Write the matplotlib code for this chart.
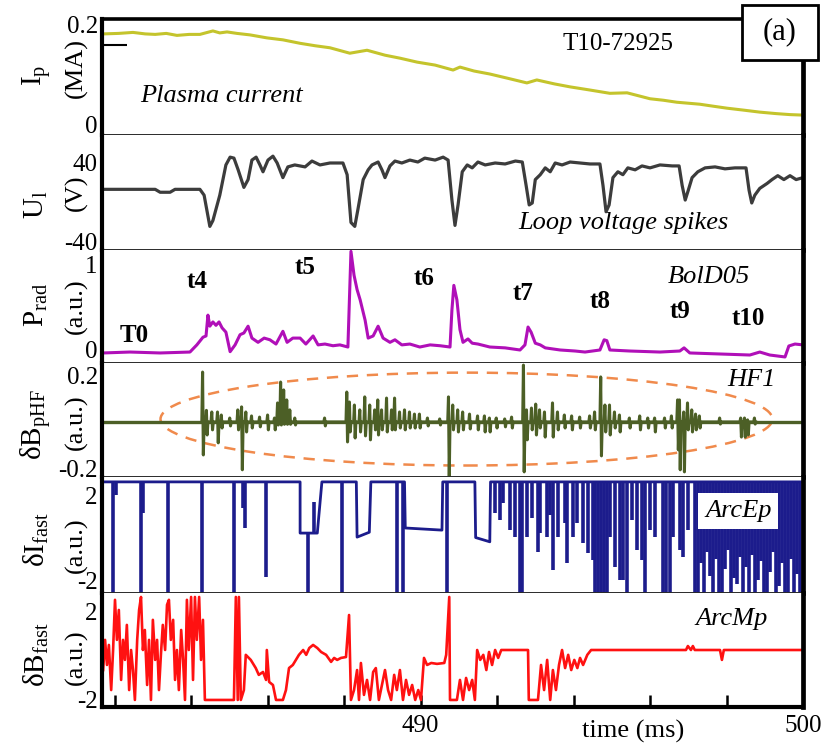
import matplotlib
matplotlib.use("Agg")
import matplotlib.pyplot as plt
from matplotlib.patches import Ellipse, Rectangle

plt.rcParams['font.family'] = ['Liberation Serif', 'DejaVu Serif']
plt.rcParams['mathtext.fontset'] = 'custom'
plt.rcParams['mathtext.rm'] = 'Liberation Serif'
plt.rcParams['mathtext.it'] = 'Liberation Serif:italic'
plt.rcParams['mathtext.bf'] = 'Liberation Serif:bold'

# ---------------- time window (ms) ----------------
T_MIN, T_MAX = 481.67, 500.0
x_ticks = [482, 484, 486, 488, 490, 492, 494, 496, 498, 500]
x_tick_labels = ['', '', '', '', '490', '', '', '', '', '500']

# ---------------- plasma current Ip (MA) ----------------
ip_t = [481.70, 482.10, 482.48, 482.80, 483.06, 483.35, 483.63, 483.95, 484.23, 484.57,
        484.75, 484.94, 485.20, 485.54, 485.98, 486.40, 486.85, 487.25, 487.63, 488.15,
        488.60, 489.07, 489.46, 489.91, 490.38, 490.85, 491.03, 491.40, 491.81, 492.30,
        492.78, 493.04, 493.50, 493.91, 494.40, 494.95, 495.40, 496.00, 496.35, 496.70,
        497.30, 497.65, 498.01, 498.45, 498.87, 499.30, 499.66, 500.00]
ip_v = [0.182, 0.183, 0.185, 0.182, 0.181, 0.183, 0.179, 0.181, 0.181, 0.188,
        0.184, 0.186, 0.183, 0.180, 0.174, 0.170, 0.163, 0.158, 0.154, 0.143,
        0.149, 0.139, 0.133, 0.125, 0.119, 0.109, 0.115, 0.107, 0.101, 0.092,
        0.083, 0.089, 0.081, 0.075, 0.069, 0.062, 0.063, 0.051, 0.048, 0.044,
        0.040, 0.036, 0.032, 0.028, 0.024, 0.021, 0.019, 0.018]

# ---------------- loop voltage Ul (V) ----------------
ul_t = [481.70, 483.06, 483.19, 483.45, 483.58, 484.23, 484.34, 484.49, 484.57, 484.75,
        484.91, 485.02, 485.12, 485.23, 485.38, 485.49, 485.59, 485.70, 485.80, 485.88,
        486.01, 486.14, 486.25, 486.40, 486.53, 486.71, 486.98, 487.16, 487.37, 487.63,
        487.97, 488.08, 488.18, 488.28, 488.36, 488.50, 488.63, 488.73, 488.89, 488.99,
        489.07, 489.20, 489.33, 489.51, 489.72, 489.93, 490.11, 490.38, 490.59, 490.72,
        490.82, 490.90, 490.98, 491.09, 491.22, 491.35, 491.50, 491.69, 491.95, 492.21,
        492.48, 492.66, 492.76, 492.84, 492.92, 493.00, 493.13, 493.26, 493.39, 493.52,
        493.70, 493.91, 494.17, 494.43, 494.69, 494.77, 494.85, 494.93, 495.03, 495.16,
        495.29, 495.42, 495.61, 495.79, 496.00, 496.26, 496.58, 496.76, 496.84, 496.92,
        497.00, 497.10, 497.25, 497.44, 497.70, 497.96, 498.22, 498.51, 498.59, 498.66,
        498.74, 498.87, 499.06, 499.19, 499.34, 499.50, 499.66, 499.82, 500.00]
ul_v = [13, 13, 10, 10, 13, 13, 7, -25, -19, 7,
        38, 46, 45, 33, 15, 23, 43, 46, 38, 31,
        43, 47, 40, 25, 36, 38, 36, 42, 38, 40,
        40, 28, -21, -25, -8, 23, 33, 38, 41, 33,
        25, 37, 42, 40, 43, 41, 45, 43, 46, 43,
        2, -24, -3, 31, 38, 35, 41, 38, 40, 39,
        42, 41, 17, -3, -1, 23, 28, 35, 31, 40,
        38, 41, 40, 39, 39, 17, -10, -3, 25, 31,
        28, 35, 33, 37, 35, 38, 37, 37, 17, 2,
        12, 25, 31, 35, 36, 34, 35, 35, 12, -1,
        7, 14, 19, 23, 27, 23, 27, 23, 25]

# ---------------- radiated power, bolometer D05 (a.u.) ----------------
pr_t = [481.70, 482.40, 483.19, 483.97, 484.15, 484.31, 484.39, 484.44, 484.49, 484.57,
        484.65, 484.73, 484.81, 484.91, 485.02, 485.15, 485.28, 485.38, 485.49, 485.59,
        485.75, 485.91, 486.06, 486.22, 486.40, 486.51, 486.66, 486.85, 487.00, 487.19,
        487.32, 487.50, 487.71, 487.89, 488.10, 488.18, 488.26, 488.34, 488.42, 488.55,
        488.63, 488.76, 488.89, 489.02, 489.20, 489.33, 489.51, 489.72, 489.98, 490.25,
        490.51, 490.77, 490.82, 490.87, 490.95, 491.03, 491.11, 491.24, 491.35, 491.50,
        491.81, 492.21, 492.60, 492.73, 492.81, 492.89, 493.00, 493.13, 493.26, 493.65,
        494.04, 494.30, 494.69, 494.80, 494.87, 494.95, 495.47, 496.26, 496.78, 496.89,
        497.04, 497.83, 498.61, 498.87, 499.13, 499.53, 499.63, 499.79, 500.00]
pr_v = [-0.035, -0.024, -0.035, -0.024, 0.06, 0.15, 0.165, 0.41, 0.28, 0.33,
        0.29, 0.33, 0.26, 0.21, -0.02, 0.06, 0.18, 0.2, 0.28, 0.14,
        0.09, 0.14, 0.12, 0.07, 0.22, 0.09, 0.14, 0.14, 0.07, 0.165,
        0.06, 0.07, 0.05, 0.06, 0.035, 1.16, 0.88, 0.71, 0.59, 0.35,
        0.14, 0.165, 0.28, 0.14, 0.09, 0.12, 0.06, 0.07, 0.035, 0.06,
        0.05, 0.035, 0.47, 0.76, 0.59, 0.24, 0.09, 0.13, 0.08, 0.07,
        0.035, 0.025, 0.0, 0.06, 0.27, 0.21, 0.08, 0.06, 0.025, 0.0,
        -0.012, -0.024, 0.0, 0.12, 0.11, 0.0, -0.012, -0.024, -0.012, 0.025,
        -0.035, -0.047, -0.059, -0.024, -0.059, -0.082, 0.047, 0.07, 0.06]

# disruption markers on the radiation trace
ev_names = ['T0', 't4', 't5', 't6', 't7', 't8', 't9', 't10']
ev_t = [482.51, 484.15, 486.98, 490.08, 492.68, 494.69, 496.78, 498.56]
ev_y = [0.165, 0.80, 0.965, 0.835, 0.67, 0.565, 0.447, 0.365]

# ---------------- HF magnetic probe HF1 (a.u.): burst excursions ----------------
hf_t = [484.31, 484.41, 484.55, 484.70, 484.80, 485.02, 485.23, 485.33, 485.44, 485.59,
        485.80, 486.01, 486.19, 486.27, 486.35, 486.43, 486.51, 486.59, 486.72, 487.50,
        488.08, 488.15, 488.28, 488.42, 488.55, 488.68, 488.81, 488.89, 488.99, 489.12,
        489.25, 489.33, 489.46, 489.59, 489.72, 489.85, 489.98, 490.19, 490.51, 490.74,
        490.85, 490.98, 491.11, 491.29, 491.50, 491.68, 491.81, 491.99, 492.21, 492.39,
        492.70, 492.78, 492.91, 493.02, 493.12, 493.25, 493.46, 493.59, 493.77, 493.96,
        494.17, 494.43, 494.56, 494.72, 494.83, 494.95, 495.08, 495.21, 495.47, 495.74,
        495.95, 496.13, 496.39, 496.57, 496.73, 496.78, 496.89, 496.99, 497.10, 497.20,
        497.30, 497.83, 498.38, 498.48, 498.56, 498.74]
hf_lo = [-0.142, -0.056, -0.034, -0.090, -0.026, -0.017, -0.034, -0.206, -0.043, -0.026,
         -0.021, -0.034, -0.034, -0.013, -0.013, -0.010, -0.010, -0.010, -0.013, -0.017,
         -0.086, -0.043, -0.069, -0.043, -0.060, -0.077, -0.034, -0.056, -0.034, -0.043,
         -0.034, -0.034, -0.026, -0.034, -0.026, -0.026, -0.026, -0.017, -0.013, -0.237,
         -0.034, -0.043, -0.034, -0.030, -0.034, -0.043, -0.043, -0.026, -0.021, -0.026,
         -0.215, -0.077, -0.034, -0.056, -0.026, -0.065, -0.065, -0.034, -0.026, -0.034,
         -0.026, -0.026, -0.034, -0.146, -0.043, -0.056, -0.026, -0.043, -0.026, -0.034,
         -0.026, -0.043, -0.026, -0.026, -0.120, -0.206, -0.215, -0.034, -0.043, -0.034,
         -0.026, -0.009, -0.065, -0.065, -0.056, -0.009]
hf_hi = [0.215, 0.050, 0.043, 0.043, 0.030, 0.017, 0.052, 0.065, 0.043, 0.026,
         0.021, 0.030, 0.017, 0.082, 0.172, 0.138, 0.095, 0.052, 0.017, 0.017,
         0.129, 0.086, 0.073, 0.052, 0.108, 0.073, 0.052, 0.095, 0.052, 0.103,
         0.052, 0.103, 0.043, 0.052, 0.043, 0.034, 0.034, 0.017, 0.013, 0.108,
         0.073, 0.052, 0.043, 0.034, 0.026, 0.026, 0.017, 0.017, 0.013, 0.021,
         0.245, 0.052, 0.060, 0.077, 0.052, 0.043, 0.082, 0.043, 0.030, 0.026,
         0.021, 0.026, 0.043, 0.194, 0.073, 0.073, 0.043, 0.030, 0.017, 0.026,
         0.017, 0.017, 0.017, 0.026, 0.095, 0.095, 0.043, 0.082, 0.052, 0.034,
         0.026, 0.017, 0.017, 0.017, 0.009, 0.017]
hf_base_t = [481.67, 500.0]
hf_base_v = [0.0, 0.0]

# ---------------- fast current probe ArcEp (a.u.) ----------------
ep_t = [481.67, 486.85, 486.85, 487.30, 487.33, 487.42, 488.32, 488.34, 488.66, 488.70,
        489.58, 489.60, 490.56, 490.58, 491.42, 491.44, 491.81, 491.83, 500.0]
ep_v = [2.62, 2.62, 0.21, 0.21, 0.82, 2.62, 2.62, 0.02, 0.25, 2.62,
        2.62, 0.45, 0.35, 2.62, 2.62, 0.0, -0.2, 2.62, 2.62]
ep_dip_t = [481.96, 482.03, 482.69, 482.74, 483.40, 484.28, 485.12, 485.36, 485.41, 485.96,
            487.06, 487.22, 487.94, 489.38, 489.54, 490.69,
            491.94, 492.08, 492.15, 492.34, 492.47, 492.60, 492.65, 492.78, 492.91, 493.07,
            493.12, 493.30, 493.38, 493.46, 493.59, 493.77, 493.83, 493.98, 494.09, 494.25,
            494.38, 494.51, 494.56, 494.64, 494.72, 494.80, 494.87, 494.95, 495.08, 495.21,
            495.29, 495.40, 495.53, 495.66, 495.79, 495.87, 496.00, 496.13, 496.34, 496.42,
            496.52, 496.60, 496.78, 496.86, 496.99, 497.17, 497.25,
            497.33, 497.41, 497.49, 497.57, 497.64, 497.72, 497.80, 497.88, 497.96, 498.04,
            498.11, 498.19, 498.27, 498.35, 498.43, 498.51, 498.59, 498.66, 498.74, 498.82,
            498.90, 498.98, 499.06, 499.13, 499.21, 499.29, 499.37, 499.45, 499.53, 499.61,
            499.68, 499.76, 499.84, 499.92]
ep_dip_lo = [-2.7, 2.0, -2.7, 1.15, -2.7, -2.7, -2.7, 1.39, 0.45, -1.86,
             -2.7, 0.21, -2.7, -2.7, -2.7, -2.7,
             1.15, 0.82, 1.62, 0.35, 0.02, -2.7, -2.7, 0.02, 0.92, -0.68,
             0.21, 0.02, 1.06, -1.53, 0.02, 0.68, -1.2, 0.02, 0.68, -0.26,
             -0.73, -1.06, -2.7, -2.7, -2.7, -2.7, -2.7, 0.02, -1.39, -2.0,
             -2.0, -2.7, 0.82, -0.59, -1.06, -2.7, 0.35, 0.02, -2.7, -2.7,
             -2.7, 0.02, -0.59, -0.92, 0.35, -2.7, -2.7,
             -1.2, -2.7, -0.7, -1.8, -2.7, -1.0, -2.7, -2.7, -1.5, -0.6,
             -2.7, -1.9, -2.2, -0.9, -2.7, -1.4, -2.7, -0.8, -2.7, -2.0,
             -1.1, -2.7, -2.7, -1.6, -0.7, -2.7, -2.3, -1.2, -2.7, -2.7,
             -1.0, -2.7, -1.7, -2.7]
ep_dip_hi = [2.62, 2.62, 2.62, 2.62, 2.62, 2.62, 2.62, 2.62, 2.62, 2.62,
             0.21, 1.67, 2.62, 2.62, 2.62, 2.62,
             2.62, 2.62, 2.62, 2.62, 2.62, 2.62, 2.62, 2.62, 2.62, 2.62,
             2.62, 2.62, 2.62, 2.62, 2.62, 2.62, 2.62, 2.62, 2.62, 2.62,
             2.62, 2.62, 2.62, 2.62, 2.62, 2.62, 2.62, 2.62, 2.62, 2.62,
             2.62, 2.62, 2.62, 2.62, 2.62, 2.62, 2.62, 2.62, 2.62, 2.62,
             2.62, 2.62, 2.62, 2.62, 2.62, 2.62, 2.62,
             2.62, 2.62, 2.62, 2.62, 2.62, 2.62, 2.62, 2.62, 2.62, 2.62,
             2.62, 2.62, 2.62, 2.62, 2.62, 2.62, 2.62, 2.62, 2.62, 2.62,
             2.62, 2.62, 2.62, 2.62, 2.62, 2.62, 2.62, 2.62, 2.62, 2.62,
             2.62, 2.62, 2.62, 2.62]

# ---------------- fast magnetic probe ArcMp (a.u.) ----------------
mp_t = [481.70, 481.75, 481.80, 481.85, 481.91, 481.96, 482.01, 482.06, 482.11, 482.17,
        482.22, 482.27, 482.32, 482.38, 482.43, 482.48, 482.53, 482.59, 482.64, 482.69,
        482.74, 482.79, 482.85, 482.90, 482.95, 483.00, 483.06, 483.11, 483.16, 483.21,
        483.26, 483.32, 483.37, 483.42, 483.47, 483.53, 483.58, 483.63, 483.68, 483.74,
        483.79, 483.84, 483.89, 483.94, 484.00, 484.05, 484.10, 484.15, 484.21, 484.26,
        484.31, 484.36,
        485.12, 485.17, 485.22, 485.25, 485.30, 485.38, 485.43, 485.56, 485.69, 485.77,
        485.88, 485.96, 485.98, 486.04, 486.14, 486.22, 486.40, 486.48, 486.56, 486.66,
        486.74, 486.82, 486.93, 487.01, 487.09, 487.19, 487.30, 487.40, 487.53, 487.66,
        487.74, 487.82, 487.92, 488.05, 488.13, 488.18, 488.26, 488.34, 488.39, 488.44,
        488.52, 488.60, 488.68, 488.76, 488.83, 488.91, 488.99, 489.07, 489.15, 489.23,
        489.31, 489.38, 489.46, 489.54, 489.62, 489.70, 489.78, 489.86, 489.94, 490.01,
        490.09, 490.17, 490.28, 490.43, 490.62, 490.67, 490.75, 490.77, 490.85, 490.95,
        491.03, 491.11, 491.19, 491.27, 491.35, 491.42, 491.48, 491.56, 491.64, 491.72,
        491.79, 491.87, 491.95, 492.03, 492.11, 492.81, 492.83, 493.07, 493.15, 493.23,
        493.31, 493.39, 493.46, 493.54, 493.62, 493.70, 493.78, 493.86, 493.94, 494.02,
        494.10, 494.17, 494.25, 494.36, 494.46, 494.54, 496.94, 496.99, 497.07, 497.12,
        497.17, 497.83, 497.88, 497.93, 500.00]
mp_v = [-0.64, 0.73, -0.41, 0.5, -1.55, 0.27, 2.55, 0.73, 2.09, -1.09,
        0.73, -0.18, 1.41, -1.55, 0.27, -0.64, -2.0, 0.73, 2.09, 2.68,
        0.27, 1.18, -1.32, 0.73, -2.0, 1.64, -0.18, 0.73, -1.55, 0.05,
        1.41, 0.27, 2.32, 2.55, 0.73, 1.64, -1.09, 0.27, -1.55, 1.18,
        -0.18, -2.0, 2.55, 0.27, 2.68, -1.09, 2.68, 0.73, 2.68, -0.18,
        1.64, -2.0,
        -2.0, 2.68, -2.0, 2.68, -2.0, -1.55, 0.05, -0.18, -0.55, -0.86,
        -0.73, -1.09, 0.27, -1.18, -1.32, -2.0, -2.0, -1.55, -0.55, -0.41,
        -0.18, 0.05, 0.27, 0.05, 0.36, 0.5, 0.36, 0.18, 0.05, -0.27,
        -0.09, -0.18, -0.09, -0.05, 1.86, -2.0, -1.55, -0.64, -2.0, -0.32,
        -1.77, -1.09, -2.0, -0.73, -0.55, -2.0, -1.32, -0.64, -1.55, -2.0,
        -0.86, -1.55, -0.64, -2.0, -1.09, -1.77, -1.32, -2.0, -1.55, -2.0,
        -0.09, -0.41, -0.32, -0.36, -0.32, 0.05, 2.68, -2.0, -2.0, -2.0,
        -1.09, -2.0, -1.0, -1.55, -1.09, -2.0, 0.27, -0.18, 0.05, -0.64,
        0.18, -0.41, 0.27, -0.09, 0.27, 0.27, -2.0, -2.0, -0.41, -1.55,
        -0.18, -2.0, -0.64, -1.55, -0.41, 0.27, -0.55, 0.05, -0.64, -0.18,
        -0.55, -0.09, -0.41, 0.05, 0.27, 0.27, 0.27, 0.45, 0.27, 0.45,
        0.27, 0.27, -0.18, 0.27, 0.27]

# ---------------- figure layout (pixel grid of the 830 x 745 canvas) ----------------
W, H = 830, 745
fig = plt.figure(figsize=(W / 100, H / 100), dpi=100)


def fx(x):
    return x / W


def fy(y):
    return 1 - y / H


LEFT, RIGHT = 102, 803
edges = [19, 135, 250, 363, 477, 593, 707]
ylims = [(-0.0222, 0.2121), (-49.2, 68.7), (-0.153, 1.176),
         (-0.237, 0.254), (-2.61, 2.85), (-2.32, 2.86)]
yticks = [[0, 0.2], [-40, 40], [0, 1], [-0.2, 0.2], [-2, 2], [-2, 2]]
yticklabels = [['0', '0.2'], ['-40', '40'], ['0', '1'], ['-0.2', '0.2'], ['-2', '2'], ['-2', '2']]

axes = []
for i in range(6):
    top, bot = edges[i], edges[i + 1]
    ax = fig.add_axes([fx(LEFT), fy(bot), fx(RIGHT) - fx(LEFT), (bot - top) / H])
    ax.set_xlim(T_MIN, T_MAX)
    ax.set_ylim(*ylims[i])
    ax.set_yticks(yticks[i])
    ax.set_yticklabels(yticklabels[i])
    ax.tick_params(axis='y', length=0, pad=3, labelsize=18)
    ax.tick_params(axis='x', which='both', bottom=False, top=False, labelbottom=False)
    for s in ax.spines.values():
        s.set_color('#2a2a2a')
        s.set_linewidth(1.4)
    ax.spines['left'].set_linewidth(3.0)
    ax.spines['left'].set_color('black')
    ax.spines['right'].set_linewidth(3.4)
    ax.spines['right'].set_color('black')
    if i > 0:
        ax.spines['top'].set_visible(False)
    axes.append(ax)

axes[0].spines['top'].set_linewidth(2.6)
axes[0].spines['top'].set_color('black')
axes[-1].spines['bottom'].set_linewidth(3.0)
axes[-1].spines['bottom'].set_color('black')

ax_ip, ax_ul, ax_pr, ax_hf, ax_ep, ax_mp = axes

# ---------------- traces ----------------
ax_ip.plot(ip_t, ip_v, color='#c4c42c', lw=2.2)
ax_ip.set_yticks([0.16], minor=True)
ax_ip.tick_params(axis='y', which='minor', direction='in', length=18, width=1.5, color='black')

ax_ul.plot(ul_t, ul_v, color='#3c3c3c', lw=2.3)
ax_pr.plot(pr_t, pr_v, color='#b00fb8', lw=2.2)

# HF1: flat baseline with a short up/down excursion at each burst sample
hf_line_t, hf_line_v = [], []
for t, lo, hi in zip(hf_t, hf_lo, hf_hi):
    hf_line_t += [t - 0.03, t - 0.01, t + 0.01, t + 0.03]
    hf_line_v += [0.0, hi, lo, 0.0]
ax_hf.plot(hf_base_t, hf_base_v, color='#4c5f26', lw=2.4)
ax_hf.plot(hf_line_t, hf_line_v, color='#4c5f26', lw=2.2)
ax_hf.add_patch(Ellipse((491.2, 0.0125), 16.0, 0.40, fill=False, edgecolor='#f08a4c',
                        lw=1.8, linestyle=(0, (4.5, 3.5))))

ax_ep.plot(ep_t, ep_v, color='#1c1c8c', lw=2.0)
ax_ep.vlines(ep_dip_t, ep_dip_lo, ep_dip_hi, color='#1c1c8c', lw=2.6)

ax_mp.plot(mp_t, mp_v, color='#ff1111', lw=1.9)

# ---------------- bottom time axis ----------------
ax_mp.set_xticks(x_ticks)
ax_mp.set_xticklabels(x_tick_labels)
ax_mp.tick_params(axis='x', bottom=True, labelbottom=True, direction='in', length=9,
                  width=1.8, color='black', pad=6, labelsize=18)
fig.text(fx(633), fy(731), 'time (ms)', ha='center', va='center', fontsize=19)

# ---------------- y-axis titles (quantity / unit columns) ----------------
ylab_q = ['I$_\\mathrm{p}$', 'U$_\\mathrm{l}$', 'P$_\\mathrm{rad}$',
          '\u03b4B$_\\mathrm{pHF}$', '\u03b4I$_\\mathrm{fast}$', '\u03b4B$_\\mathrm{fast}$']
ylab_q_y = [75, 205, 305, 425, 540, 655]
ylab_u = ['(MA)', '(V)', '(a.u.)', '(a.u.)', '(a.u.)', '(a.u.)']
ylab_u_y = [68, 193, 306, 422, 545, 657]
for q, qy, u, uy in zip(ylab_q, ylab_q_y, ylab_u, ylab_u_y):
    fig.text(fx(36), fy(qy), q, rotation=90, ha='center', va='center', fontsize=21)
    fig.text(fx(76), fy(uy), u, rotation=90, ha='center', va='center', fontsize=19)

# ---------------- annotations ----------------
fig.text(fx(562), fy(44), 'T10-72925', ha='left', va='center', fontsize=18)
fig.text(fx(140), fy(96), 'Plasma current', ha='left', va='center', fontsize=19, style='italic')
fig.text(fx(518), fy(223), 'Loop voltage spikes', ha='left', va='center', fontsize=19, style='italic')
fig.text(fx(668), fy(277), 'BolD05', ha='left', va='center', fontsize=19, style='italic')
fig.text(fx(727), fy(380), 'HF1', ha='left', va='center', fontsize=19, style='italic')
fig.text(fx(705), fy(511), 'ArcEp', ha='left', va='center', fontsize=19, style='italic', zorder=20,
         bbox=dict(facecolor='white', edgecolor='none', pad=5))
fig.text(fx(695), fy(619), 'ArcMp', ha='left', va='center', fontsize=19, style='italic')

for name, t, y in zip(ev_names, ev_t, ev_y):
    ax_pr.text(t, y, name, ha='center', va='center', fontsize=18, fontweight='bold')

# panel tag box
fig.add_artist(Rectangle((fx(742), fy(60)), fx(818) - fx(742), (60 - 5) / H,
                         transform=fig.transFigure, facecolor='white', edgecolor='black',
                         lw=2.0, zorder=30))
fig.text(fx(780), fy(32), '(a)', ha='center', va='center', fontsize=22, zorder=31)

fig.savefig('out.png', dpi=100)
